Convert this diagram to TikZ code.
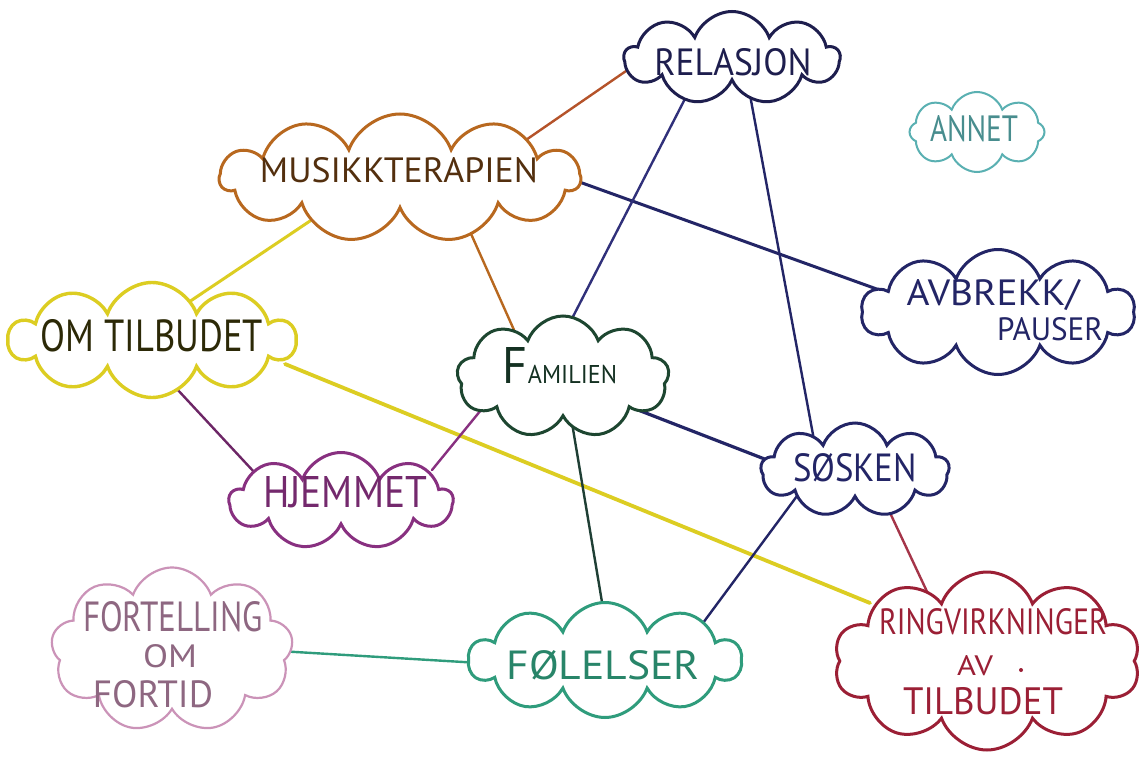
\documentclass[tikz,border=0pt]{standalone}
\usepackage{fontspec}
\setmainfont{PT Sans}
\usepackage{graphicx}
\usetikzlibrary{shapes.symbols,backgrounds,calc}

% text scaled to a given width and cap height (in pt)
\newcommand{\handtext}[3]{\resizebox{#1pt}{#2pt}{#3}}

\definecolor{navyC}{HTML}{232566}
\definecolor{relC}{HTML}{1E1E4E}
\definecolor{annetC}{HTML}{5AB0B2}
\definecolor{musC}{HTML}{B8681F}
\definecolor{rustC}{HTML}{B5532A}
\definecolor{yellowC}{HTML}{DCCD22}
\definecolor{famC}{HTML}{1D4630}
\definecolor{famlinkC}{HTML}{1F3F35}
\definecolor{indigoC}{HTML}{30307A}
\definecolor{purpleC}{HTML}{883080}
\definecolor{pinkC}{HTML}{CB93B8}
\definecolor{folC}{HTML}{2F9C7C}
\definecolor{ringC}{HTML}{9B1F35}

\begin{document}
\begin{tikzpicture}[x=1pt,y=-1pt,
  bubble/.style={cloud, cloud ignores aspect, draw=#1, fill=white,
    line width=3pt, inner sep=0pt, cloud puff arc=140},
  link/.style={line width=2.4pt, line cap=round},
  handlbl/.style={inner sep=0pt, text=#1},
]
\useasboundingbox (0,0) rectangle (1142,762);

% clouds
\node[bubble=relC, minimum width=215pt, minimum height=93pt, cloud puffs=9] (rel) at (732,58) {};
\node[bubble=annetC, minimum width=135pt, minimum height=80pt, cloud puffs=8, line width=2pt] (ann) at (977,132) {};
\node[bubble=musC, minimum width=360pt, minimum height=128pt, cloud puffs=11] (mus) at (400,178) {};
\node[bubble=navyC, minimum width=273pt, minimum height=125pt, cloud puffs=10] (avb) at (998,312) {};
\node[bubble=yellowC, minimum width=286pt, minimum height=115pt, cloud puffs=10, line width=3.4pt] (om) at (152,340) {};
\node[bubble=famC, minimum width=212pt, minimum height=122pt, cloud puffs=9] (fam) at (563,377) {};
\node[bubble=navyC, minimum width=188pt, minimum height=94pt, cloud puffs=9] (sos) at (855,470) {};
\node[bubble=purpleC, minimum width=223pt, minimum height=97pt, cloud puffs=9] (hje) at (341,501) {};
\node[bubble=pinkC, minimum width=242pt, minimum height=165pt, cloud puffs=9, line width=2.2pt] (fort) at (172,650) {};
\node[bubble=folC, minimum width=272pt, minimum height=115pt, cloud puffs=10] (fol) at (605,660) {};
\node[bubble=ringC, minimum width=306pt, minimum height=178pt, cloud puffs=10] (ring) at (987,661) {};

% texts
\node[handlbl=relC] (rel-t) at (733,62) {\handtext{157}{27}{RELASJON}};
\node[handlbl=annetC!80!black] (ann-t) at (974,129) {\handtext{88}{26}{ANNET}};
\node[handlbl=musC!45!black] (mus-t) at (399,170) {\handtext{278}{25}{MUSIKKTERAPIEN}};
\node[handlbl=navyC] (avb-t1) at (993,295) {\handtext{173}{26}{AVBREKK/}};
\node[handlbl=navyC] (avb-t2) at (1050,329) {\handtext{106}{23}{PAUSER}};
\node[handlbl=yellowC!20!black] (om-t) at (152,336) {\handtext{222}{32}{OM TILBUDET}};
\node[handlbl=famC!70!black] (fam-t) at (560,366) {\handtext{114}{36}{{\fontsize{10}{12}\selectfont F}{\fontsize{5}{6}\selectfont AMILIEN}}};
\node[handlbl=navyC] (sos-t) at (855,468) {\handtext{124}{28}{SØSKEN}};
\node[handlbl=purpleC!85!black] (hje-t) at (345,492) {\handtext{164}{31}{HJEMMET}};
\node[handlbl=pinkC!70!black] (fort-t1) at (173,617) {\handtext{180}{30}{FORTELLING}};
\node[handlbl=pinkC!70!black] (fort-t2) at (170,656) {\handtext{54}{23}{OM}};
\node[handlbl=pinkC!70!black] (fort-t3) at (153,694) {\handtext{120}{27}{FORTID}};
\node[handlbl=folC!85!black] (fol-t) at (603,665) {\handtext{193}{29}{FØLELSER}};
\node[handlbl=ringC] (ring-t1) at (993,622) {\handtext{228}{26}{RINGVIRKNINGER}};
\node[handlbl=ringC] (ring-t2) at (975,666) {\handtext{36}{20}{AV}};
\node[handlbl=ringC] (ring-t3) at (983,701) {\handtext{160}{27}{TILBUDET}};
\fill[ringC] (1021,670) circle (2pt);

% connectors, behind the clouds
\begin{scope}[on background layer]
\fill[white] (0,0) rectangle (1142,762);
\draw[link, draw=rustC] ($(mus)+(123,-36)$) -- ($(rel)+(-90,2)$);
\draw[link, draw=navyC, line width=3pt] ($(mus)+(160,-3)$) -- ($(avb)+(-113,-20)$);
\draw[link, draw=yellowC, line width=3pt] ($(mus)+(-90,43)$) -- ($(om)+(28,-32)$);
\draw[link, draw=musC] ($(mus)+(55,20)$) -- ($(fam)+(-49,-47)$);
\draw[link, draw=indigoC] ($(rel)+(-44,35)$) -- ($(fam)+(-1,-39)$);
\draw[link, draw=navyC] ($(rel)+(18,37)$) -- ($(sos)+(-41,-30)$);
\draw[link, draw=purpleC!80!black] ($(om)+(-2,20)$) -- ($(hje)+(-86,-28)$);
\draw[link, draw=yellowC, line width=3.8pt] ($(om)+(133,24)$) -- ($(ring)+(-117,-58)$);
\draw[link, draw=purpleC] ($(hje)+(91,-31)$) -- ($(fam)+(-82,33)$);
\draw[link, draw=navyC, line width=3.2pt] ($(fam)+(57,26)$) -- ($(sos)+(-75,-5)$);
\draw[link, draw=famlinkC] ($(fam)+(8,40)$) -- ($(fol)+(2,-28)$);
\draw[link, draw=navyC] ($(sos)+(-58,26)$) -- ($(fol)+(95,-33)$);
\draw[link, draw=ringC!90!white] ($(sos)+(29,30)$) -- ($(ring)+(-57,-63)$);
\draw[link, draw=folC] ($(fort)+(90,0)$) -- ($(fol)+(-125,3)$);
\end{scope}
\end{tikzpicture}
\end{document}
